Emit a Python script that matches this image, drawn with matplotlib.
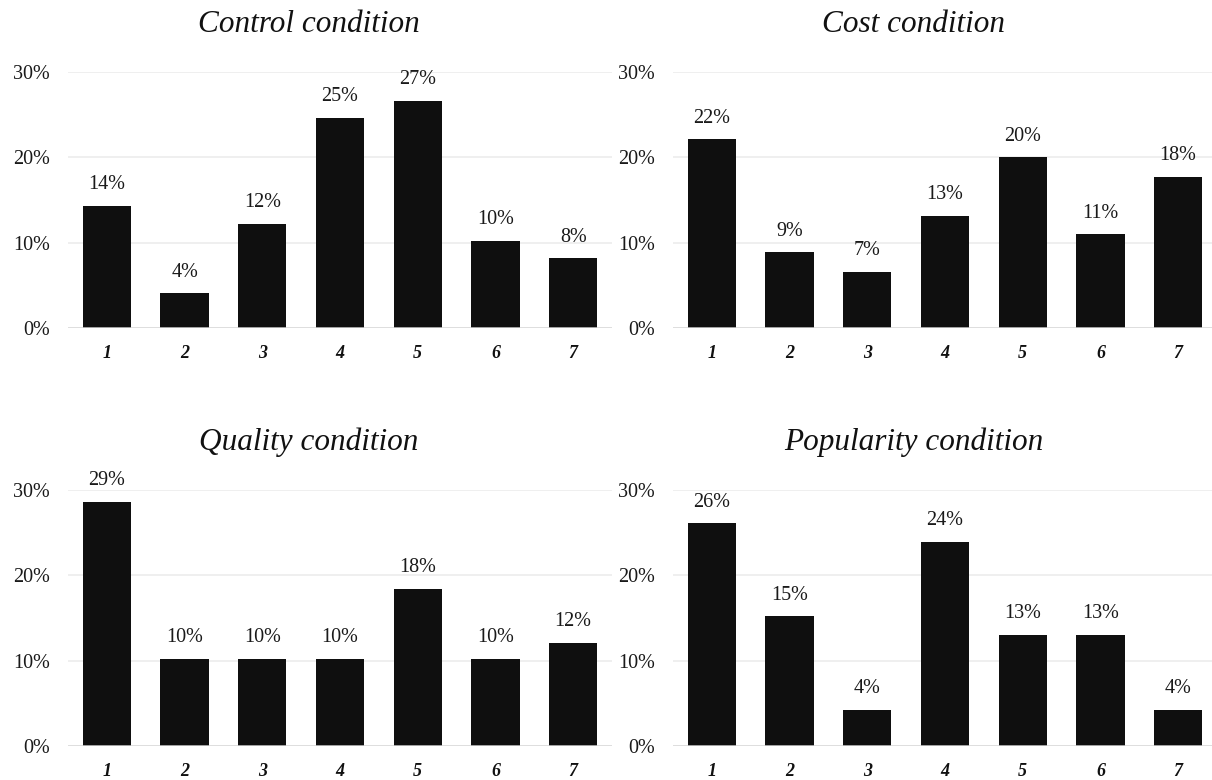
import matplotlib
matplotlib.use("Agg")
import matplotlib.pyplot as plt
import numpy as np

plt.rcParams["font.family"] = ["Liberation Serif", "DejaVu Serif"]

categories = ["1", "2", "3", "4", "5", "6", "7"]
yticks = [0, 10, 20, 30]

control = [14.3, 4.1, 12.2, 24.6, 26.6, 10.2, 8.2]
cost = [22.1, 8.9, 6.6, 13.2, 20.0, 11.0, 17.7]
quality = [28.6, 10.2, 10.2, 10.2, 18.4, 10.2, 12.1]
popularity = [26.1, 15.2, 4.2, 23.9, 13.0, 13.0, 4.2]

titles = ["Control condition", "Cost condition", "Quality condition", "Popularity condition"]
series = [control, cost, quality, popularity]

W, H = 1212, 780
fig = plt.figure(figsize=(W / 100, H / 100), dpi=100)
fig.patch.set_facecolor("white")

# axes boxes in pixels: (left, right, top, bottom)
boxes = [(68, 612, 72, 328.3), (673, 1217, 72, 328.3),
         (68, 612, 490, 746), (673, 1217, 490, 746)]
title_pos = [(309, 32), (914, 32), (309, 450), (914, 450)]

x = np.arange(len(categories))
for vals, title, (l, r, t, b), (tx, ty) in zip(series, titles, boxes, title_pos):
    ax = fig.add_axes([l / W, 1 - b / H, (r - l) / W, (b - t) / H])
    ax.set_facecolor("white")
    for y in yticks[1:]:
        ax.axhline(y, color="#ececec", lw=1.2, zorder=0)
    ax.axhline(0, color="#d4d4d4", lw=1.8, zorder=3)
    ax.bar(x, vals, width=0.62, color="#0f0f0f", zorder=2)
    for xi, v in zip(x, vals):
        ax.annotate(f"{round(v)}%", xy=(xi, v), xytext=(0, 12), textcoords="offset points",
                    ha="center", va="baseline", fontsize=14.5, color="#1a1a1a",
                    annotation_clip=False)
    ax.set_xlim(-0.5, len(categories) - 0.5)
    ax.set_ylim(0, 30)
    ax.set_yticks(yticks)
    ax.set_yticklabels([f"{v}%" for v in yticks], fontsize=14.5, color="#1a1a1a")
    ax.set_xticks(x)
    ax.set_xticklabels(categories, fontsize=13, fontweight="bold", fontstyle="italic",
                       color="#111111")
    ax.tick_params(axis="both", length=0)
    ax.tick_params(axis="y", pad=13)
    ax.tick_params(axis="x", pad=12)
    for s in ax.spines.values():
        s.set_visible(False)
    fig.text(tx / W, 1 - ty / H, title, ha="center", va="baseline",
             fontsize=22.5, fontstyle="italic", color="#111111")

fig.savefig("out.png", dpi=100, facecolor="white")
